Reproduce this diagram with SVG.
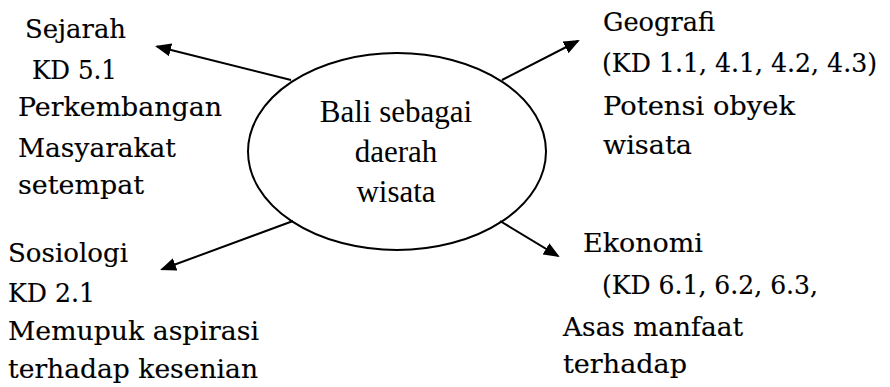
<svg xmlns="http://www.w3.org/2000/svg" width="890" height="387" viewBox="0 0 890 387">
  <style>
    .lbl { font-family: "DejaVu Serif", "Liberation Serif", serif; font-size: 26px; fill: #000; stroke: #000; stroke-width: 0.15; }
    .ctr { font-family: "Liberation Serif", "Times New Roman", serif; font-size: 31px; fill: #000; text-anchor: middle; }
    .edge { stroke: #000; stroke-width: 2; fill: none; marker-end: url(#arrow); }
  </style>
  <defs>
    <marker id="arrow" markerUnits="userSpaceOnUse" markerWidth="17" markerHeight="14" refX="14" refY="6.5" orient="auto">
      <path d="M0,0 L16,6.5 L0,13 z" fill="#000"/>
    </marker>
  </defs>
  <rect width="890" height="387" fill="#fff"/>

  <g id="center">
    <ellipse cx="397" cy="151.5" rx="149" ry="98.5" fill="none" stroke="#000" stroke-width="2"/>
    <text class="ctr" x="396" y="122">Bali sebagai</text>
    <text class="ctr" x="396" y="162">daerah</text>
    <text class="ctr" x="396" y="202">wisata</text>
  </g>

  <g id="sejarah">
    <text class="lbl" x="25" y="38" textLength="101" lengthAdjust="spacingAndGlyphs">Sejarah</text>
    <text class="lbl" x="32" y="79" textLength="85" lengthAdjust="spacingAndGlyphs">KD 5.1</text>
    <text class="lbl" x="18" y="116" textLength="204" lengthAdjust="spacingAndGlyphs">Perkembangan</text>
    <text class="lbl" x="18" y="157" textLength="158" lengthAdjust="spacingAndGlyphs">Masyarakat</text>
    <text class="lbl" x="18" y="194" textLength="126" lengthAdjust="spacingAndGlyphs">setempat</text>
  </g>

  <g id="geografi">
    <text class="lbl" x="603" y="31" textLength="112" lengthAdjust="spacingAndGlyphs">Geografi</text>
    <text class="lbl" x="602" y="72" textLength="275" lengthAdjust="spacingAndGlyphs">(KD 1.1, 4.1, 4.2, 4.3)</text>
    <text class="lbl" x="603" y="115" textLength="192" lengthAdjust="spacingAndGlyphs">Potensi obyek</text>
    <text class="lbl" x="603" y="154" textLength="89" lengthAdjust="spacingAndGlyphs">wisata</text>
  </g>

  <g id="sosiologi">
    <text class="lbl" x="8" y="262" textLength="120" lengthAdjust="spacingAndGlyphs">Sosiologi</text>
    <text class="lbl" x="8" y="302" textLength="87" lengthAdjust="spacingAndGlyphs">KD 2.1</text>
    <text class="lbl" x="8" y="340" textLength="251" lengthAdjust="spacingAndGlyphs">Memupuk aspirasi</text>
    <text class="lbl" x="8" y="378" textLength="250" lengthAdjust="spacingAndGlyphs">terhadap kesenian</text>
  </g>

  <g id="ekonomi">
    <text class="lbl" x="583" y="252" textLength="120" lengthAdjust="spacingAndGlyphs">Ekonomi</text>
    <text class="lbl" x="602" y="294" textLength="216" lengthAdjust="spacingAndGlyphs">(KD 6.1, 6.2, 6.3,</text>
    <text class="lbl" x="563" y="336" textLength="180" lengthAdjust="spacingAndGlyphs">Asas manfaat</text>
    <text class="lbl" x="563" y="373" textLength="124" lengthAdjust="spacingAndGlyphs">terhadap</text>
  </g>

  <g id="connectors">
    <line class="edge" x1="291" y1="80" x2="157" y2="46.5"/>
    <line class="edge" x1="502" y1="80" x2="578" y2="41"/>
    <line class="edge" x1="293" y1="221" x2="162" y2="269.3"/>
    <line class="edge" x1="500" y1="221" x2="558" y2="256"/>
  </g>
</svg>
